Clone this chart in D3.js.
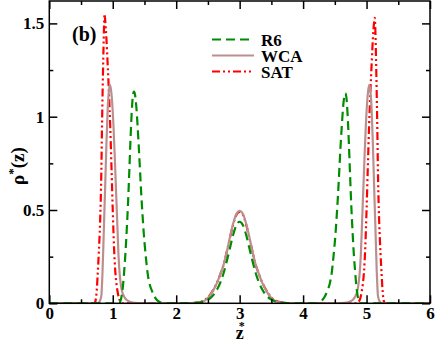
<!DOCTYPE html>
<html>
<head>
<meta charset="utf-8">
<script src="https://cdn.jsdelivr.net/npm/d3@7"></script>
<style>
  body { margin: 0; background: #fff; }
  svg { display: block; font-family: "Liberation Serif", "DejaVu Serif", serif; font-weight: bold; }
</style>
</head>
<body>
<div id="chart"></div>
<script>
// density profiles rho*(z) for three potentials

const seriesNames = ["R6", "WCA", "SAT"];

const zR6 = [0, 1.10, 1.12, 1.14, 1.16, 1.18, 1.20, 1.22, 1.24, 1.26, 1.28, 1.30, 1.32, 1.335, 1.35, 1.37, 1.39, 1.41, 1.43, 1.45, 1.47, 1.49, 1.51, 1.53, 1.55, 1.58, 1.62, 1.66, 1.70, 1.75, 1.80,
  2.20, 2.30, 2.40, 2.45, 2.50, 2.55, 2.60, 2.65, 2.70, 2.75, 2.80, 2.85, 2.90, 2.95, 3.00, 3.05, 3.10, 3.15, 3.20, 3.25, 3.30, 3.35, 3.40, 3.45, 3.50, 3.55, 3.60, 3.70, 3.80,
  4.20, 4.25, 4.30, 4.34, 4.38, 4.42, 4.45, 4.47, 4.49, 4.51, 4.53, 4.55, 4.57, 4.59, 4.61, 4.63, 4.65, 4.665, 4.68, 4.70, 4.72, 4.74, 4.76, 4.78, 4.80, 4.82, 4.84, 4.86, 4.88, 4.90, 6];
const rhoR6 = [0, 0, 0.01, 0.04, 0.09, 0.17, 0.27, 0.39, 0.53, 0.70, 0.88, 1.03, 1.12, 1.135, 1.12, 1.06, 0.96, 0.84, 0.71, 0.58, 0.47, 0.37, 0.29, 0.22, 0.16, 0.105, 0.065, 0.035, 0.016, 0.005, 0,
  0, 0.002, 0.007, 0.012, 0.02, 0.032, 0.05, 0.078, 0.115, 0.165, 0.23, 0.30, 0.37, 0.42, 0.437, 0.42, 0.37, 0.30, 0.23, 0.165, 0.115, 0.078, 0.05, 0.032, 0.02, 0.012, 0.007, 0.002, 0,
  0, 0.005, 0.016, 0.035, 0.065, 0.105, 0.16, 0.22, 0.29, 0.37, 0.47, 0.58, 0.71, 0.84, 0.95, 1.05, 1.11, 1.125, 1.11, 1.02, 0.87, 0.69, 0.52, 0.38, 0.26, 0.17, 0.09, 0.04, 0.01, 0, 0];

const zWCA = [0, 0.76, 0.78, 0.80, 0.82, 0.84, 0.86, 0.88, 0.90, 0.92, 0.94, 0.955, 0.97, 0.99, 1.01, 1.03, 1.05, 1.07, 1.09, 1.11, 1.13, 1.15, 1.18, 1.22, 1.28, 1.35, 1.45,
  2.20, 2.30, 2.40, 2.45, 2.50, 2.55, 2.60, 2.65, 2.70, 2.75, 2.80, 2.85, 2.90, 2.95, 3.00, 3.05, 3.10, 3.15, 3.20, 3.25, 3.30, 3.35, 3.40, 3.45, 3.50, 3.55, 3.60, 3.70, 3.80,
  4.55, 4.65, 4.72, 4.78, 4.82, 4.85, 4.87, 4.89, 4.91, 4.93, 4.95, 4.97, 4.99, 5.01, 5.03, 5.045, 5.06, 5.08, 5.10, 5.12, 5.14, 5.16, 5.18, 5.20, 5.22, 5.24, 6];
const rhoWCA = [0, 0, 0.003, 0.015, 0.04, 0.18, 0.40, 0.62, 0.85, 1.04, 1.14, 1.17, 1.15, 1.08, 0.96, 0.80, 0.62, 0.44, 0.26, 0.155, 0.095, 0.06, 0.035, 0.018, 0.007, 0.002, 0,
  0, 0.002, 0.006, 0.014, 0.028, 0.05, 0.08, 0.115, 0.16, 0.21, 0.28, 0.36, 0.43, 0.48, 0.495, 0.48, 0.43, 0.36, 0.28, 0.21, 0.16, 0.115, 0.08, 0.05, 0.028, 0.014, 0.006, 0.002, 0,
  0, 0.002, 0.007, 0.018, 0.035, 0.06, 0.095, 0.155, 0.26, 0.44, 0.62, 0.80, 0.96, 1.08, 1.15, 1.17, 1.14, 1.04, 0.85, 0.62, 0.40, 0.18, 0.04, 0.015, 0.003, 0, 0];

const zSAT = [0, 0.70, 0.72, 0.74, 0.75, 0.76, 0.78, 0.80, 0.81, 0.82, 0.83, 0.84, 0.85, 0.86, 0.87, 0.88, 0.90, 0.92, 0.94, 0.96, 0.98, 1.00, 1.02, 1.04, 1.06, 1.08, 1.10, 1.13, 1.16,
  2.20, 2.30, 2.40, 2.45, 2.50, 2.55, 2.60, 2.65, 2.70, 2.75, 2.80, 2.85, 2.90, 2.95, 3.00, 3.05, 3.10, 3.15, 3.20, 3.25, 3.30, 3.35, 3.40, 3.45, 3.50, 3.55, 3.60, 3.70, 3.80,
  4.84, 4.87, 4.90, 4.92, 4.94, 4.96, 4.98, 5.00, 5.02, 5.04, 5.06, 5.08, 5.10, 5.12, 5.13, 5.14, 5.15, 5.16, 5.17, 5.18, 5.19, 5.20, 5.22, 5.24, 5.25, 5.26, 5.28, 5.30, 6];
const rhoSAT = [0, 0, 0.005, 0.04, 0.08, 0.14, 0.27, 0.43, 0.54, 0.70, 0.93, 1.13, 1.30, 1.45, 1.55, 1.52, 1.42, 1.28, 1.13, 0.95, 0.73, 0.50, 0.30, 0.17, 0.10, 0.055, 0.025, 0.006, 0,
  0, 0.003, 0.01, 0.018, 0.032, 0.053, 0.082, 0.116, 0.16, 0.21, 0.28, 0.355, 0.425, 0.475, 0.49, 0.475, 0.425, 0.355, 0.28, 0.21, 0.16, 0.116, 0.082, 0.053, 0.032, 0.018, 0.01, 0.003, 0,
  0, 0.006, 0.025, 0.055, 0.10, 0.17, 0.30, 0.50, 0.73, 0.95, 1.13, 1.28, 1.42, 1.51, 1.53, 1.45, 1.30, 1.13, 0.93, 0.70, 0.54, 0.43, 0.27, 0.14, 0.08, 0.04, 0.005, 0, 0];

const xTicks = [0, 1, 2, 3, 4, 5, 6];
const xMinor = [0.5, 1.5, 2.5, 3.5, 4.5, 5.5];
const yTicks = [0, 0.5, 1, 1.5];
const yTickLabels = ["0", "0.5", "1", "1.5"];
const yMinor = [0.25, 0.75, 1.25];

const width = 436, height = 343;
const margin = { left: 49.3, right: 6, top: 1, bottom: 39.7 };

const svg = d3.select("#chart").append("svg")
  .attr("width", width)
  .attr("height", height);

const x = d3.scaleLinear().domain([0, 6]).range([margin.left, width - margin.right]);
const y = d3.scaleLinear().domain([0, 1.62]).range([height - margin.bottom, margin.top]);

const styles = {
  R6: { color: "#008c00", dash: "9,5" },
  WCA: { color: "#bc8f8f", dash: null },
  SAT: { color: "#ff0000", dash: "8,3,2,3,2,3" }
};

const series = {
  R6: zR6.map((z, i) => [z, rhoR6[i]]),
  WCA: zWCA.map((z, i) => [z, rhoWCA[i]]),
  SAT: zSAT.map((z, i) => [z, rhoSAT[i]])
};

const line = d3.line()
  .x(d => x(d[0]))
  .y(d => y(d[1]))
  .curve(d3.curveMonotoneX);

const plot = svg.append("g");
plot.append("clipPath").attr("id", "clip")
  .append("rect")
  .attr("x", x(0)).attr("y", y(1.62))
  .attr("width", x(6) - x(0)).attr("height", y(0) - y(1.62));

// draw SAT under WCA under R6
["SAT", "WCA", "R6"].forEach(name => {
  plot.append("path")
    .datum(series[name])
    .attr("clip-path", "url(#clip)")
    .attr("fill", "none")
    .attr("stroke", styles[name].color)
    .attr("stroke-width", 2.2)
    .attr("stroke-dasharray", styles[name].dash)
    .attr("d", line);
});

// axes, ticks pointing inwards on all four sides
function styleAxis(g) {
  g.select(".domain").remove();
  g.selectAll(".tick line").attr("stroke", "#000").attr("stroke-width", 1.5);
}

svg.append("g")
  .attr("transform", `translate(0,${y(0)})`)
  .call(d3.axisBottom(x).tickValues(xTicks).tickSize(-8).tickFormat(d3.format("d")))
  .call(styleAxis)
  .call(g => g.selectAll("text").attr("font-size", 17).attr("font-family", "Liberation Serif").attr("font-weight", "bold").attr("fill", "#000").attr("dy", "0.71em").attr("y", 4));
svg.append("g")
  .attr("transform", `translate(0,${y(0)})`)
  .call(d3.axisBottom(x).tickValues(xMinor).tickSize(-4).tickFormat(""))
  .call(styleAxis);
svg.append("g")
  .attr("transform", `translate(0,${y(1.62)})`)
  .call(d3.axisTop(x).tickValues(xTicks).tickSize(-8).tickFormat(""))
  .call(styleAxis);
svg.append("g")
  .attr("transform", `translate(0,${y(1.62)})`)
  .call(d3.axisTop(x).tickValues(xMinor).tickSize(-4).tickFormat(""))
  .call(styleAxis);

svg.append("g")
  .attr("transform", `translate(${x(0)},0)`)
  .call(d3.axisLeft(y).tickValues(yTicks).tickSize(-8).tickFormat((d, i) => yTickLabels[i]))
  .call(styleAxis)
  .call(g => g.selectAll("text").attr("font-size", 17).attr("font-family", "Liberation Serif").attr("font-weight", "bold").attr("fill", "#000").attr("x", -5));
svg.append("g")
  .attr("transform", `translate(${x(0)},0)`)
  .call(d3.axisLeft(y).tickValues(yMinor).tickSize(-4).tickFormat(""))
  .call(styleAxis);
svg.append("g")
  .attr("transform", `translate(${x(6)},0)`)
  .call(d3.axisRight(y).tickValues(yTicks).tickSize(-8).tickFormat(""))
  .call(styleAxis);
svg.append("g")
  .attr("transform", `translate(${x(6)},0)`)
  .call(d3.axisRight(y).tickValues(yMinor).tickSize(-4).tickFormat(""))
  .call(styleAxis);

// frame
svg.append("rect")
  .attr("x", x(0)).attr("y", y(1.62))
  .attr("width", x(6) - x(0)).attr("height", y(0) - y(1.62))
  .attr("fill", "none").attr("stroke", "#000").attr("stroke-width", 1.5);

// axis titles
const yTitle = svg.append("text")
  .attr("transform", `translate(24,166) rotate(-90)`)
  .attr("text-anchor", "middle")
  .attr("font-size", 19);
yTitle.append("tspan").text("ρ");
yTitle.append("tspan").attr("font-size", 13).attr("dy", -7).text("*");
yTitle.append("tspan").attr("dy", 7).text("(z)");

const xTitle = svg.append("text")
  .attr("x", x(3) - 4).attr("y", 339)
  .attr("font-size", 18);
xTitle.append("tspan").text("z");
xTitle.append("tspan").attr("font-size", 12).attr("dx", -5).attr("dy", -9).text("*");

svg.append("text")
  .attr("x", 72).attr("y", 41)
  .attr("font-size", 20)
  .text("(b)");

// legend
const legend = svg.append("g");
seriesNames.forEach((name, i) => {
  const ly = 39.5 + i * 16;
  legend.append("line")
    .attr("x1", 212).attr("x2", 254)
    .attr("y1", ly).attr("y2", ly)
    .attr("stroke", styles[name].color)
    .attr("stroke-width", 2.2)
    .attr("stroke-dasharray", styles[name].dash);
  legend.append("text")
    .attr("x", 261).attr("y", ly + 6)
    .attr("font-size", 17)
    .text(name);
});
</script>
</body>
</html>
